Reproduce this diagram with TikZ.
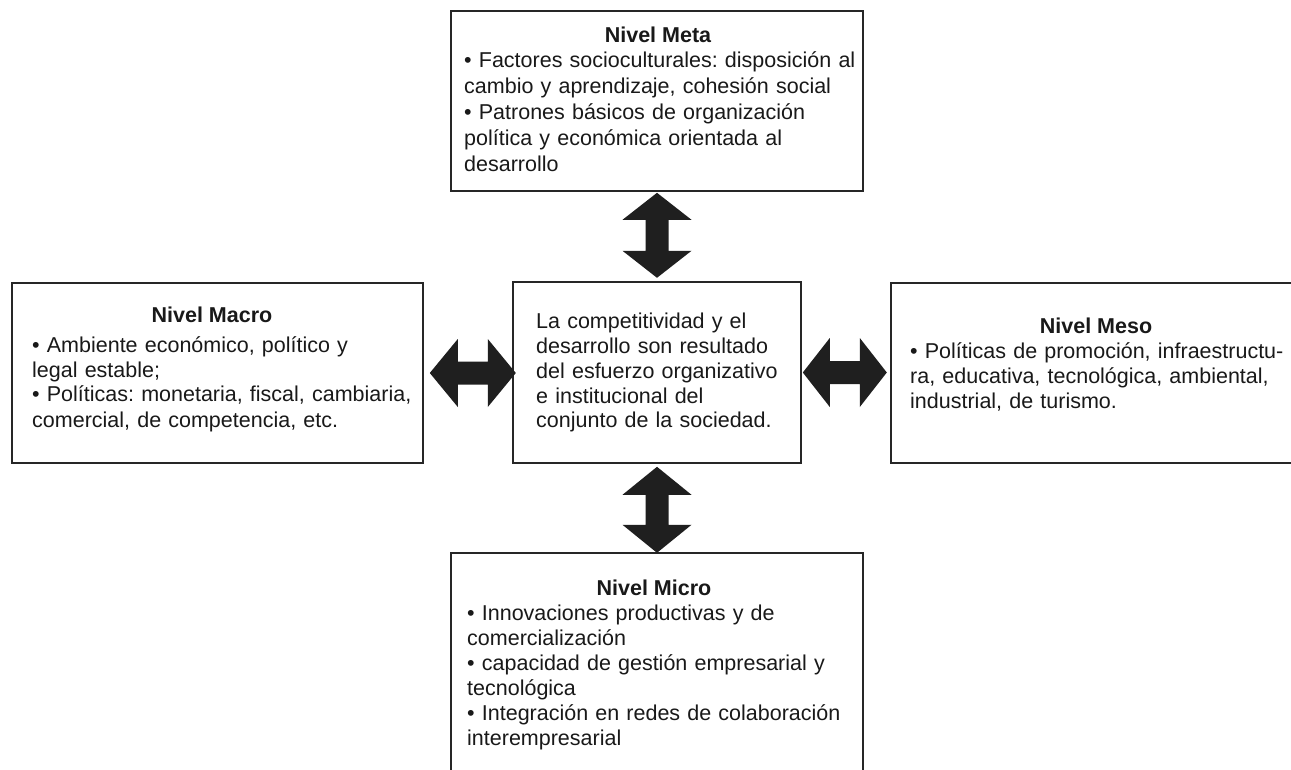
\documentclass[tikz,border=0pt]{standalone}
\usepackage{fontspec}
\setmainfont{Liberation Sans}
\usetikzlibrary{calc}
\frenchspacing
\tikzset{
  boxnode/.style={draw=black!85, line width=1.6pt, rectangle, inner sep=0pt, fill=white},
  titletext/.style={anchor=base, inner sep=0pt, text=black!90, font={\fontsize{21.5}{25.5}\selectfont\bfseries}},
  bodytext/.style={anchor=base west, inner sep=0pt, text=black!90, align=left, text width=420pt, font={\fontsize{21.5}{#1}\selectfont\frenchspacing}},
  bodytext/.default=25,
  blockarrow/.style={fill=black!88, draw=none}
}
\begin{document}
\begin{tikzpicture}[x=1pt,y=-1pt]
\useasboundingbox[fill=white] (0,0) rectangle (1291,770);

% boxes
\node[boxnode, minimum width=412, minimum height=180] (meta) at (657,101) {};
\node[boxnode, minimum width=411, minimum height=180] (macro) at (217.5,373) {};
\node[boxnode, minimum width=288, minimum height=181] (centre) at (657,372.5) {};
\node[boxnode, minimum width=420, minimum height=180] (meso) at (1101,373) {};
\node[boxnode, minimum width=412, minimum height=232] (micro) at (657,669) {};

% texts
\node[titletext] (metatitle) at (658,43) {Nivel Meta};
\node[bodytext=26] (metabody) at (464,68) {• Factores socioculturales: disposición al\\
cambio y aprendizaje, cohesión social\\
• Patrones básicos de organización\\
política y económica orientada al\\
desarrollo};

\node[titletext] (macrotitle) at (212,323) {Nivel Macro};
\node[bodytext] (macrobody) at (32,352) {• Ambiente económico, político y\\
legal estable;\\
• Políticas: monetaria, fiscal, cambiaria,\\
comercial, de competencia, etc.};

\node[bodytext] (centrebody) at (536,328) {La competitividad y el\\
desarrollo son resultado\\
del esfuerzo organizativo\\
e institucional del\\
conjunto de la sociedad.};

\node[titletext] (mesotitle) at (1096,333) {Nivel Meso};
\node[bodytext] (mesobody) at (910,358) {• Políticas de promoción, infraestructu-\\
ra, educativa, tecnológica, ambiental,\\
industrial, de turismo.};

\node[titletext] (microtitle) at (654,595) {Nivel Micro};
\node[bodytext] (microbody) at (467,620) {• Innovaciones productivas y de\\
comercialización\\
• capacidad de gestión empresarial y\\
tecnológica\\
• Integración en redes de colaboración\\
interempresarial};

% double block arrows
% meta <-> centre
\fill[blockarrow] ($(meta.south)+(0,1)$) -- +(34.5,27) -- +(11.5,27) -- +(11.5,58) -- +(34.5,58) -- +(0,85)
  -- +(-34.5,58) -- +(-11.5,58) -- +(-11.5,27) -- +(-34.5,27) -- cycle;
% centre <-> micro
\fill[blockarrow] ($(centre.south)+(0,3)$) -- +(34.5,28) -- +(11.5,28) -- +(11.5,58) -- +(34.5,58) -- +(0,86)
  -- +(-34.5,58) -- +(-11.5,58) -- +(-11.5,28) -- +(-34.5,28) -- cycle;
% macro <-> centre
\fill[blockarrow] ($(macro.east)+(6,0)$) -- +(28,-34) -- +(28,-11.5) -- +(58,-11.5) -- +(58,-34) -- +(86,0)
  -- +(58,34) -- +(58,11.5) -- +(28,11.5) -- +(28,34) -- cycle;
% centre <-> meso
\fill[blockarrow] ($(centre.east)+(1,0)$) -- +(27,-34.5) -- +(27,-11.5) -- +(57,-11.5) -- +(57,-34.5) -- +(84,0)
  -- +(57,34.5) -- +(57,11.5) -- +(27,11.5) -- +(27,34.5) -- cycle;
\end{tikzpicture}
\end{document}
